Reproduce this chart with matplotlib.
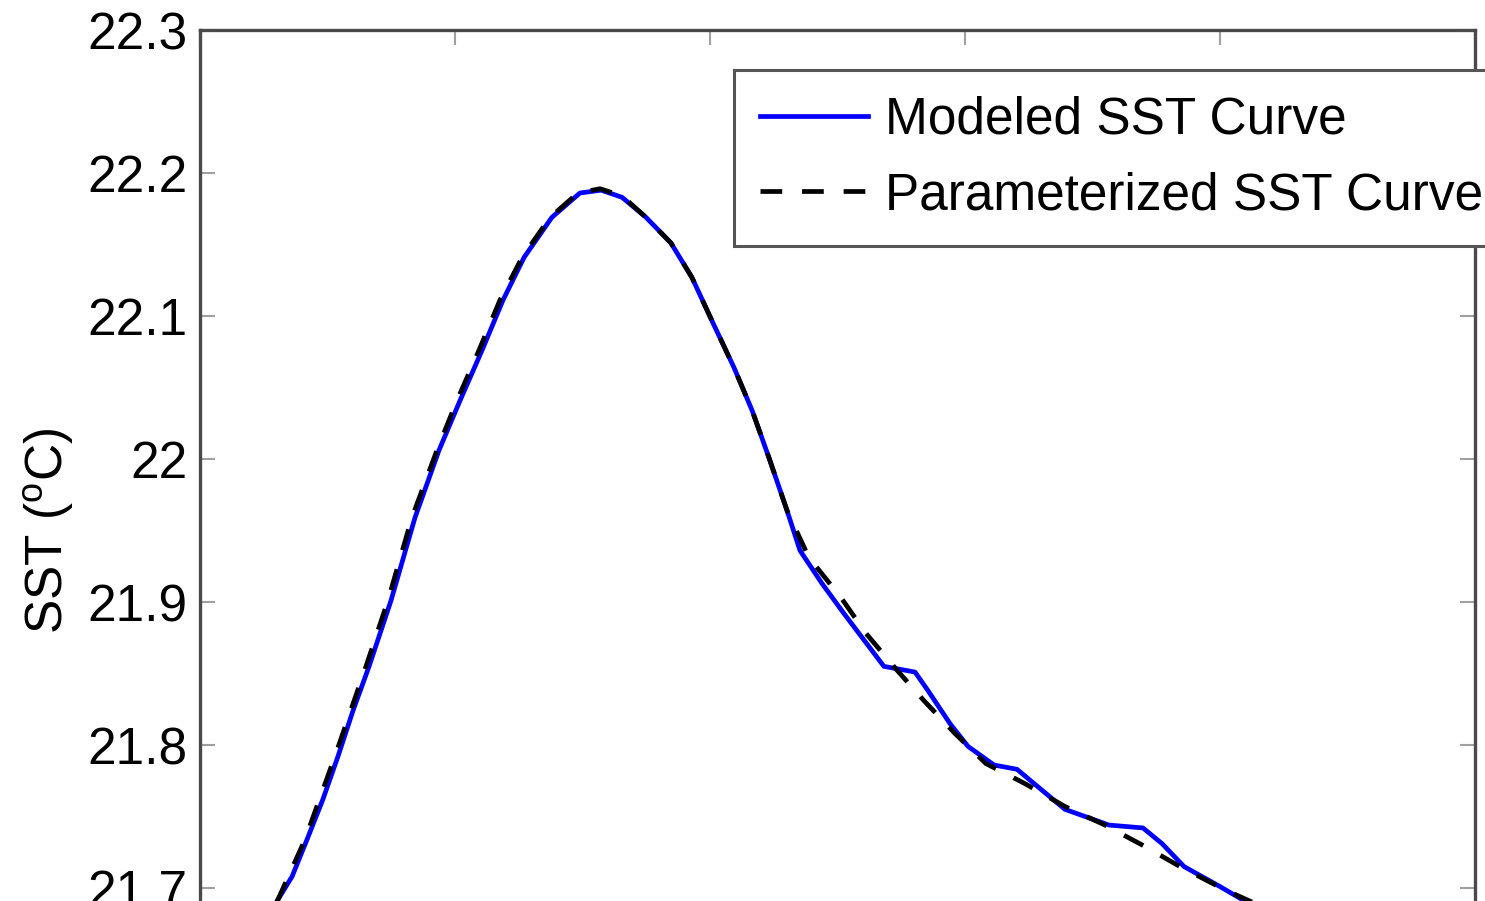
import matplotlib
matplotlib.use("Agg")
import matplotlib.pyplot as plt

plt.rcParams['font.family'] = ['Liberation Sans', 'DejaVu Sans']
plt.rcParams['mathtext.fontset'] = 'custom'
plt.rcParams['mathtext.rm'] = 'Liberation Sans'
plt.rcParams['mathtext.it'] = 'Liberation Sans'

# Modeled SST curve (x in arbitrary time units, SST in deg C)
model_x = [2.7, 3.06, 3.61, 4.20, 4.82, 5.41, 6.00, 6.63, 7.49, 8.43, 9.37, 10.20, 11.06,
           11.88, 12.71, 13.80, 14.90, 15.73, 16.55, 17.49, 18.47, 19.29, 20.12, 20.94,
           21.65, 22.31, 23.02, 23.53, 24.39, 25.25, 26.82, 28.04, 28.55, 29.41, 30.12,
           31.14, 32.04, 32.71, 33.92, 35.65, 36.98, 37.73, 38.59, 40.00, 40.86, 41.6]
model_y = [21.680, 21.692, 21.708, 21.734, 21.762, 21.792, 21.824, 21.855, 21.901, 21.959,
           22.006, 22.041, 22.076, 22.111, 22.141, 22.169, 22.186, 22.188, 22.183, 22.169,
           22.151, 22.127, 22.095, 22.064, 22.034, 22.001, 21.964, 21.936, 21.913, 21.892,
           21.855, 21.851, 21.838, 21.815, 21.799, 21.786, 21.783, 21.773, 21.755, 21.744,
           21.742, 21.731, 21.715, 21.701, 21.692, 21.684]

# Parameterized SST curve
param_x = [2.7, 3.06, 4.12, 5.29, 6.51, 7.37, 8.31, 9.29, 10.08, 10.94, 11.76, 12.63, 13.73,
           14.82, 15.69, 16.55, 17.49, 18.47, 19.29, 20.12, 20.94, 21.65, 22.31, 23.02,
           23.88, 25.10, 26.12, 27.25, 28.39, 29.61, 30.82, 32.35, 33.92, 35.49, 37.06,
           38.43, 40.16, 41.4]
param_y = [21.680, 21.692, 21.734, 21.792, 21.855, 21.901, 21.959, 22.006, 22.041, 22.076,
           22.111, 22.141, 22.169, 22.186, 22.189, 22.184, 22.169, 22.151, 22.127, 22.095,
           22.064, 22.034, 22.001, 21.964, 21.931, 21.904, 21.878, 21.854, 21.831, 21.808,
           21.787, 21.773, 21.757, 21.744, 21.729, 21.715, 21.699, 21.689]

yticks = [21.6, 21.7, 21.8, 21.9, 22.0, 22.1, 22.2, 22.3]
ytick_labels = ['21.6', '21.7', '21.8', '21.9', '22', '22.1', '22.2', '22.3']
xticks = [0, 10, 20, 30, 40, 50]

W, H = 1485, 901
fig = plt.figure(figsize=(W / 100, H / 100), dpi=100)
# axes: left 200px, right 1475px, top 30px (22.3), 21.6 at 1031px (below figure)
ax_left = 200 / W
ax_width = (1475 - 200) / W
ax_top = 1 - 30 / H
ax_height = 1001 / H
ax = fig.add_axes([ax_left, ax_top - ax_height, ax_width, ax_height])

ax.plot(model_x, model_y, color='#0000ff', lw=3.4, label='Modeled SST Curve', zorder=2,
        solid_joinstyle='round')
ax.plot(param_x, param_y, color='black', lw=3.4, dashes=(4.6, 4.2),
        label='Parameterized SST Curve', zorder=3)

ax.set_xlim(0, 50)
ax.set_ylim(21.6, 22.3)
ax.set_yticks(yticks)
ax.set_yticklabels(ytick_labels)
ax.set_xticks(xticks)

for s in ax.spines.values():
    s.set_color('#4a4a4a')
    s.set_linewidth(2.4)

ax.tick_params(axis='both', direction='in', length=11, width=1.5, color='#a0a0a0',
               labelsize=37, top=True, right=True, pad=9, labelcolor='black')
ax.tick_params(axis='x', labelbottom=False)

ax.set_ylabel(r'SST ($^{\rm o}$C)', fontsize=37, labelpad=8)

leg = ax.legend(loc='upper left', bbox_to_anchor=(0.4188, 0.96), fontsize=37,
                frameon=True, fancybox=False, framealpha=1, edgecolor='#555555',
                handlelength=2.1, handletextpad=0.33, labelspacing=0.52,
                borderpad=0.5, borderaxespad=0)
leg.get_frame().set_linewidth(2.2)

fig.savefig('out.png', dpi=100)
